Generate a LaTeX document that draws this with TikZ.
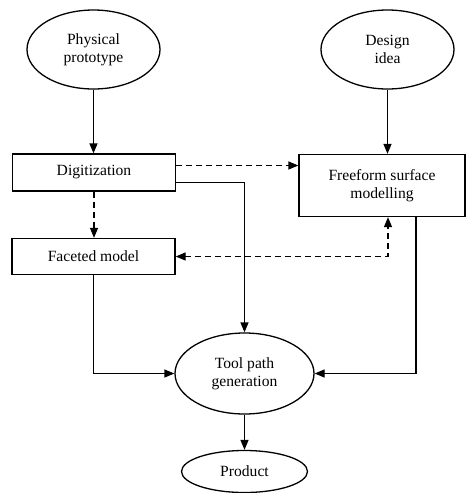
\documentclass[tikz,border=0pt]{standalone}
\usepackage{fontspec}
\setmainfont{Liberation Serif}
\usetikzlibrary{shapes.geometric,arrows.meta}
\begin{document}
\begin{tikzpicture}[x=1pt,y=1pt,
  every node/.style={font=\fontsize{15.6}{18}\selectfont, align=center, inner sep=0pt, line width=1.3pt},
  ell/.style={ellipse, draw},
  box/.style={rectangle, draw},
  arr/.style={line width=1.3pt, -{Triangle[length=10pt,width=8pt]}},
  barr/.style={line width=1.3pt, {Triangle[length=10pt,width=8pt]}-{Triangle[length=10pt,width=8pt]}},
  dsh/.style={dash pattern=on 6pt off 4pt}]
\useasboundingbox (0,0) rectangle (466,-493);
\node[ell, minimum width=133pt, minimum height=79pt] (pp) at (93.5,-49.5) {Physical\\prototype};
\node[ell, minimum width=133pt, minimum height=79pt] (di) at (387.5,-49.5) {Design\\idea};
\node[box, minimum width=163pt, minimum height=37pt] (dig) at (94,-172.5) {Digitization};
\node[box, minimum width=166pt, minimum height=62pt] (ff) at (382,-185.5) {Freeform surface\\modelling};
\node[box, minimum width=163pt, minimum height=36pt] (fm) at (93.5,-256.5) {Faceted model};
\node[ell, minimum width=139pt, minimum height=81pt] (tp) at (244.5,-373.5) {Tool path\\generation};
\node[ell, minimum width=126pt, minimum height=42pt] (pr) at (244.5,-471.5) {Product};
\coordinate (dige) at ([yshift=7pt]dig.east);
\draw[arr] (pp.south) -- (pp.south |- dig.north);
\draw[arr] (di.south) -- (di.south |- ff.north);
\draw[arr,dsh] (dige) -- (ff.west |- dige);
\draw[arr,dsh] (dig.south) -- (dig.south |- fm.north);
\draw[arr] ([yshift=-10pt]dig.east) -| (tp.north);
\draw[barr,dsh] (fm.east) -| ([xshift=6pt]ff.south);
\draw[arr] ([xshift=34pt]ff.south) |- (tp.east);
\draw[arr] (fm.south) |- (tp.west);
\draw[arr] (tp.south) -- (pr.north);
\end{tikzpicture}
\end{document}
